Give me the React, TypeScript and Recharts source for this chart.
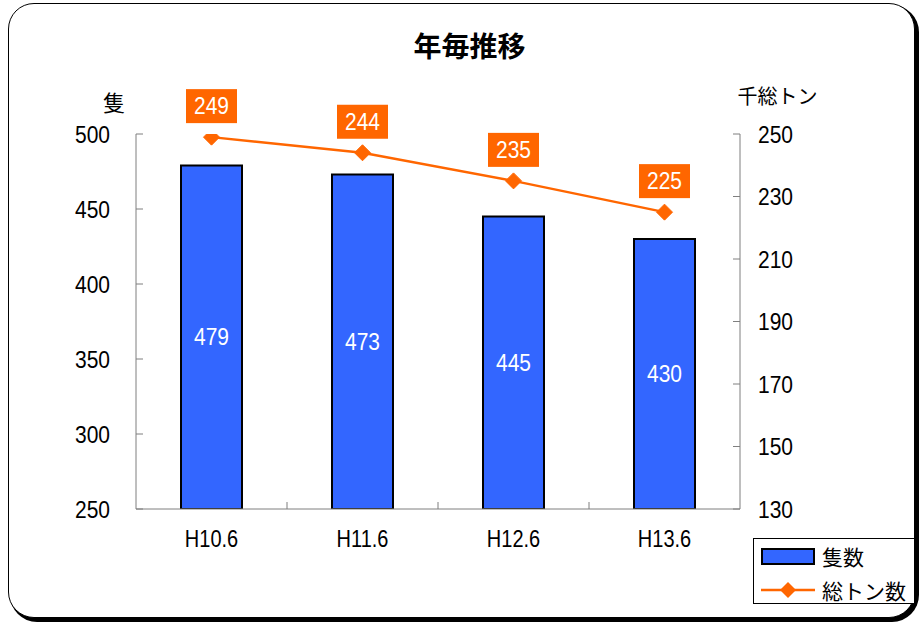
import React from 'react';
import { ComposedChart, Bar, Line, XAxis, YAxis, LabelList } from 'recharts';

const categories = ['H10.6', 'H11.6', 'H12.6', 'H13.6'];
const vesselCounts = [479, 473, 445, 430];
const grossTonnage = [249, 244, 235, 225];
const leftTicks = [250, 300, 350, 400, 450, 500];
const rightTicks = [130, 150, 170, 190, 210, 230, 250];

const data = categories.map((c, i) => ({ category: c, vessels: vesselCounts[i], tonnage: grossTonnage[i] }));

const NUM_FONT = '"Liberation Sans", Arial, sans-serif';
const JP_FONT = '"Noto Sans CJK JP", "Noto Sans", sans-serif';
const BAR_BLUE = '#3366FF';
const ORANGE = '#FF6600';
const AXIS_GRAY = '#7f7f7f';

const LeftTick = (props: any) => {
  const { x, y, payload } = props;
  return (
    <g>
      <line x1={x} x2={x + 7} y1={y} y2={y} stroke={AXIS_GRAY} strokeWidth={1} />
      <text
        transform={`translate(${x - 26},${y}) scale(1,1.17)`}
        textAnchor="end"
        dominantBaseline="central"
        fontFamily={NUM_FONT}
        fontSize={21}
        fill="#000"
      >
        {payload.value}
      </text>
    </g>
  );
};

const RightTick = (props: any) => {
  const { x, y, payload } = props;
  return (
    <g>
      <line x1={x - 7} x2={x} y1={y} y2={y} stroke={AXIS_GRAY} strokeWidth={1} />
      <text
        transform={`translate(${x + 18},${y}) scale(1,1.17)`}
        textAnchor="start"
        dominantBaseline="central"
        fontFamily={NUM_FONT}
        fontSize={21}
        fill="#000"
      >
        {payload.value}
      </text>
    </g>
  );
};

const BottomTick = (props: any) => {
  const { x, y, payload, index } = props;
  const half = 604 / categories.length / 2;
  return (
    <g>
      {index < categories.length - 1 && (
        <line x1={x + half} x2={x + half} y1={y} y2={y - 7} stroke={AXIS_GRAY} strokeWidth={1} />
      )}
      <text
        transform={`translate(${x},${y + 30}) scale(1,1.17)`}
        textAnchor="middle"
        dominantBaseline="central"
        fontFamily={NUM_FONT}
        fontSize={20}
        fill="#000"
      >
        {payload.value}
      </text>
    </g>
  );
};

const Diamond = (props: any) => {
  const { cx, cy } = props;
  if (cx == null || cy == null) return null;
  const r = 8;
  return (
    <polygon
      points={`${cx},${cy - r} ${cx + r},${cy} ${cx},${cy + r} ${cx - r},${cy}`}
      fill={ORANGE}
      stroke={ORANGE}
      strokeWidth={1}
    />
  );
};

const LineLabel = (props: any) => {
  const { x, y, value } = props;
  const w = 51;
  const h = 34;
  const cy = y - 31;
  return (
    <g>
      <rect x={x - w / 2} y={cy - h / 2} width={w} height={h} fill={ORANGE} />
      <text
        transform={`translate(${x},${cy}) scale(1,1.12)`}
        textAnchor="middle"
        dominantBaseline="central"
        fontFamily={NUM_FONT}
        fontSize={21}
        fill="#fff"
      >
        {value}
      </text>
    </g>
  );
};

const BarLabel = (props: any) => {
  const { x, y, width, height, value } = props;
  const cx = x + width / 2;
  const cy = y + height / 2;
  return (
    <text
      transform={`translate(${cx},${cy}) scale(1,1.12)`}
      textAnchor="middle"
      dominantBaseline="central"
      fontFamily={NUM_FONT}
      fontSize={21}
      fill="#fff"
    >
      {value}
    </text>
  );
};

export default function App() {
  return (
    <div style={{ position: 'absolute', left: 0, top: 0, width: 921, height: 623, background: '#fff', overflow: 'hidden' }}>
      <div
        style={{
          position: 'absolute',
          left: 8,
          top: 3,
          width: 907,
          height: 615,
          boxSizing: 'border-box',
          border: '1.5px solid #000',
          borderRadius: 26,
          boxShadow: '3px 3px 0 1px #000',
          background: '#fff',
        }}
      />
      <div
        style={{
          position: 'absolute',
          left: 469.5,
          top: 44.5,
          transform: 'translate(-50%, -50%)',
          fontFamily: JP_FONT,
          fontWeight: 'bold',
          fontSize: 28,
          lineHeight: 1,
          whiteSpace: 'nowrap',
          color: '#000',
        }}
      >
        年毎推移
      </div>
      <div
        style={{
          position: 'absolute',
          left: 114,
          top: 101,
          transform: 'translate(-50%, -50%)',
          fontFamily: JP_FONT,
          fontSize: 22,
          lineHeight: 1,
          whiteSpace: 'nowrap',
          color: '#000',
        }}
      >
        隻
      </div>
      <div
        style={{
          position: 'absolute',
          left: 777.5,
          top: 96,
          transform: 'translate(-50%, -50%)',
          fontFamily: JP_FONT,
          fontSize: 20,
          lineHeight: 1,
          whiteSpace: 'nowrap',
          color: '#000',
        }}
      >
        千総トン
      </div>
      <div style={{ position: 'absolute', left: 0, top: 0 }}>
        <ComposedChart width={921} height={623} data={data} margin={{ top: 134, right: 0, bottom: 0, left: 0 }}>
          <XAxis
            dataKey="category"
            height={114}
            axisLine={{ stroke: AXIS_GRAY, strokeWidth: 1 }}
            tickLine={false}
            tickSize={0}
            tickMargin={0}
            tick={<BottomTick />}
            interval={0}
          />
          <YAxis
            yAxisId="left"
            orientation="left"
            width={136}
            domain={[250, 500]}
            ticks={leftTicks}
            allowDataOverflow
            axisLine={{ stroke: AXIS_GRAY, strokeWidth: 1 }}
            tickLine={false}
            tickSize={0}
            tickMargin={0}
            tick={<LeftTick />}
            interval={0}
          />
          <YAxis
            yAxisId="right"
            orientation="right"
            width={181}
            domain={[130, 250]}
            ticks={rightTicks}
            allowDataOverflow
            axisLine={{ stroke: AXIS_GRAY, strokeWidth: 1 }}
            tickLine={false}
            tickSize={0}
            tickMargin={0}
            tick={<RightTick />}
            interval={0}
          />
          <Bar
            yAxisId="left"
            dataKey="vessels"
            fill={BAR_BLUE}
            stroke="#000"
            strokeWidth={2}
            barSize={61}
            isAnimationActive={false}
          >
            <LabelList dataKey="vessels" content={<BarLabel />} />
          </Bar>
          <Line
            yAxisId="right"
            dataKey="tonnage"
            stroke={ORANGE}
            strokeWidth={2.5}
            dot={<Diamond />}
            activeDot={false}
            isAnimationActive={false}
          >
            <LabelList dataKey="tonnage" content={<LineLabel />} />
          </Line>
        </ComposedChart>
      </div>
      <div
        style={{
          position: 'absolute',
          left: 753,
          top: 538,
          width: 162,
          height: 66,
          boxSizing: 'border-box',
          border: '1px solid #000',
          background: '#fff',
        }}
      >
        <svg width={160} height={64} style={{ position: 'absolute', left: 0, top: 0 }}>
          <rect x={8} y={10} width={52} height={15} fill={BAR_BLUE} stroke="#000" strokeWidth={2} />
          <line x1={7} x2={61} y1={51} y2={51} stroke={ORANGE} strokeWidth={2.5} />
          <polygon points="34,43 42,51 34,59 26,51" fill={ORANGE} />
        </svg>
        <div
          style={{
            position: 'absolute',
            left: 68,
            top: 17,
            transform: 'translateY(-50%)',
            fontFamily: JP_FONT,
            fontSize: 21,
            lineHeight: 1,
            whiteSpace: 'nowrap',
          }}
        >
          隻数
        </div>
        <div
          style={{
            position: 'absolute',
            left: 68,
            top: 51,
            transform: 'translateY(-50%)',
            fontFamily: JP_FONT,
            fontSize: 21,
            lineHeight: 1,
            whiteSpace: 'nowrap',
          }}
        >
          総トン数
        </div>
      </div>
    </div>
  );
}
